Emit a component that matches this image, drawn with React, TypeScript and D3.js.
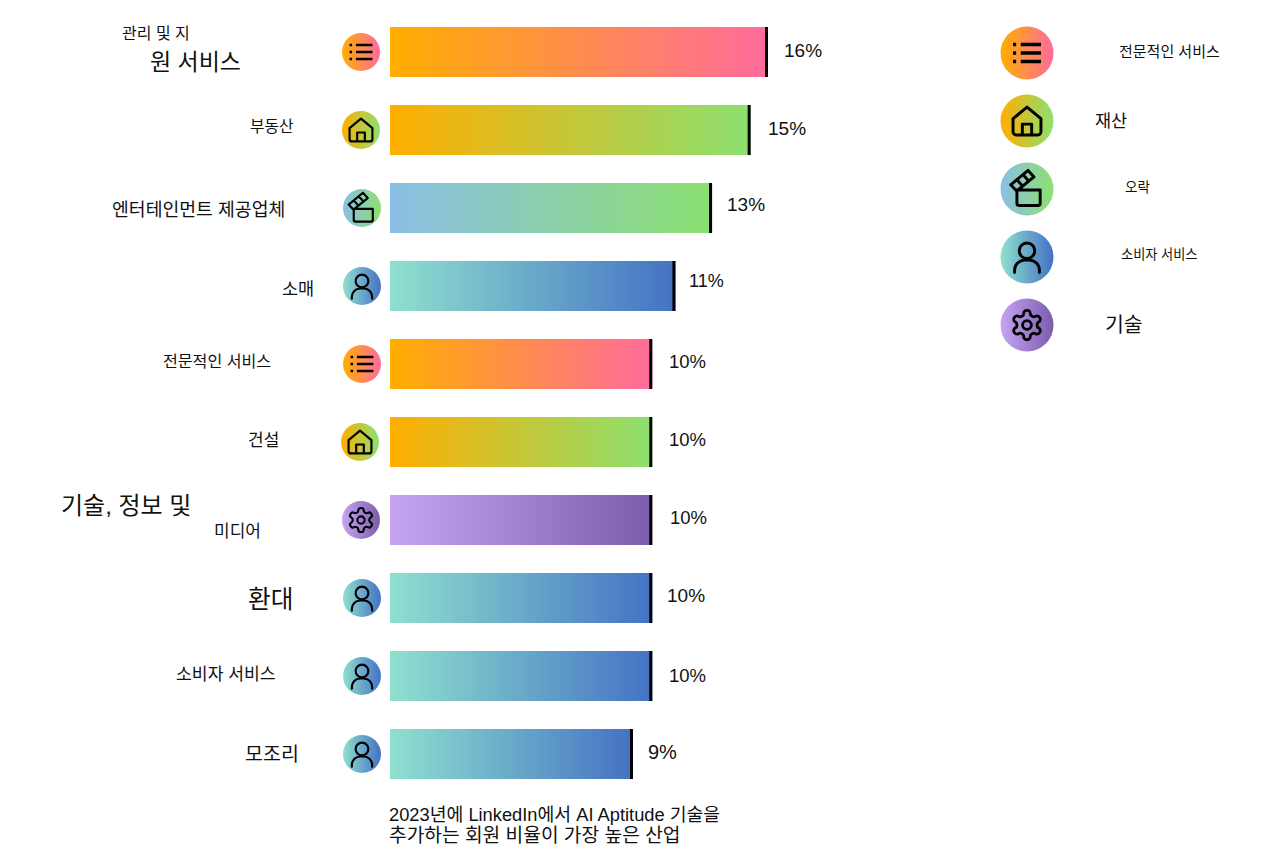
import React, { useEffect, useRef } from 'react';
import * as d3 from 'd3';

const industries = ['관리 및 지원 서비스', '부동산', '엔터테인먼트 제공업체', '소매', '전문적인 서비스', '건설', '기술, 정보 및 미디어', '환대', '소비자 서비스', '모조리'];
// widths on the picture don't quite follow the rounded labels, so values are read off the bars
const barValues = [16, 15.1, 13.1, 11.2, 10, 10, 10, 10, 10, 9];
const valueLabels = ['16%', '15%', '13%', '11%', '10%', '10%', '10%', '10%', '10%', '9%'];
const groups = ['pro', 'prop', 'ent', 'cons', 'pro', 'prop', 'tech', 'cons', 'cons', 'cons'];

const legendGroups = ['pro', 'prop', 'ent', 'cons', 'tech'];
const legendLabels = ['전문적인 서비스', '재산', '오락', '소비자 서비스', '기술'];

const footerLines = ['2023년에 LinkedIn에서 AI Aptitude 기술을', '추가하는 회원 비율이 가장 높은 산업'];

const gradientStops: Record<string, [string, string]> = {
  pro: ['#ffae00', '#ff6b9d'],
  prop: ['#ffae00', '#8ce070'],
  ent: ['#8abfe6', '#8ce070'],
  cons: ['#8fe0cf', '#4472c4'],
  tech: ['#c6a4f4', '#7b5cab'],
};

// icon outlines on a 24 unit box
const iconPaths: Record<string, string> = {
  pro: 'M8 6.5h13M8 12h13M8 17.5h13M3 6.5h2M3 12h2M3 17.5h2',
  prop: 'M3 10.5 12 3l9 7.5V19a2 2 0 0 1-2 2H5a2 2 0 0 1-2-2zM9 21v-7h6v7',
  ent: 'M5.5 12.7h15v8.5a1.5 1.5 0 0 1-1.5 1.5H7a1.5 1.5 0 0 1-1.5-1.5zM1.5 9.3 12.7 0l3.8 4.2L5.3 13.3zM5.5 6l3.8 4.3M9.5 2.8l3.8 4.3',
  cons: 'M12 3a5 5 0 1 0 0 10 5 5 0 0 0 0-10zM4 22v-1.5a6.5 6.5 0 0 1 6.5-6.5h3a6.5 6.5 0 0 1 6.5 6.5V22',
  tech: 'M12.22 2h-.44a2 2 0 0 0-2 2v.18a2 2 0 0 1-1 1.73l-.43.25a2 2 0 0 1-2 0l-.15-.08a2 2 0 0 0-2.73.73l-.22.38a2 2 0 0 0 .73 2.73l.15.1a2 2 0 0 1 1 1.72v.51a2 2 0 0 1-1 1.74l-.15.09a2 2 0 0 0-.73 2.73l.22.38a2 2 0 0 0 2.73.73l.15-.08a2 2 0 0 1 2 0l.43.25a2 2 0 0 1 1 1.73V20a2 2 0 0 0 2 2h.44a2 2 0 0 0 2-2v-.18a2 2 0 0 1 1-1.73l.43-.25a2 2 0 0 1 2 0l.15.08a2 2 0 0 0 2.73-.73l.22-.39a2 2 0 0 0-.73-2.73l-.15-.08a2 2 0 0 1-1-1.74v-.5a2 2 0 0 1 1-1.74l.15-.09a2 2 0 0 0 .73-2.73l-.22-.38a2 2 0 0 0-2.73-.73l-.15.08a2 2 0 0 1-2 0l-.43-.25a2 2 0 0 1-1-1.73V4a2 2 0 0 0-2-2zM12 9a3 3 0 1 0 0 6 3 3 0 0 0 0-6z',
};

// the source labels were pasted in by hand at uneven sizes: [text, left x, centre y, font size]
const labelLayout: [string, number, number, number][] = [
  ['관리 및 지', 122, 33, 16],
  ['원 서비스', 150, 62, 23],
  ['부동산', 250, 126, 15.8],
  ['엔터테인먼트 제공업체', 112, 209, 18.3],
  ['소매', 282, 289, 17.5],
  ['전문적인 서비스', 163, 361, 16.1],
  ['건설', 248, 440, 17],
  ['기술, 정보 및', 61, 505, 24],
  ['미디어', 214, 531, 17],
  ['환대', 248, 599, 24.7],
  ['소비자 서비스', 176, 674, 17.2],
  ['모조리', 245, 754, 19.5],
];
const valueLayout: [number, number, number][] = [
  [784, 50, 19], [768, 128, 19], [727, 204, 19], [689, 281, 18], [669, 361, 18.5],
  [669, 439, 18.5], [670, 517, 18.5], [667, 595, 19], [669, 675, 18.5], [648, 752, 20],
];
const iconCentres = [361, 361, 362, 362, 362, 360, 361, 362, 362, 362];
const legendLayout: [number, number, number][] = [
  [1119, 51, 15], [1095, 121, 17.5], [1125, 187, 13.5], [1121, 254, 13.2], [1105, 324, 20.5],
];
const footerSizes = [18.3, 19.2];

const font = "'Liberation Sans', 'Noto Sans CJK KR', sans-serif";

const App = () => {
  const ref = useRef<SVGSVGElement>(null);

  useEffect(() => {
    const svg = d3.select(ref.current);
    svg.selectAll('*').remove();

    const defs = svg.append('defs');
    Object.keys(gradientStops).forEach(k => {
      const g = defs.append('linearGradient').attr('id', `grad-${k}`);
      g.append('stop').attr('offset', '0%').attr('stop-color', gradientStops[k][0]);
      g.append('stop').attr('offset', '100%').attr('stop-color', gradientStops[k][1]);
    });

    const xScale = d3.scaleLinear().domain([9, 16]).range([633, 768]);
    const yScale = d3
      .scaleBand()
      .domain(industries)
      .range([27, 779])
      .paddingInner(28 / 78)
      .paddingOuter(0);
    const x0 = 390;

    const rows = svg
      .append('g')
      .selectAll('g')
      .data(industries)
      .join('g');

    rows
      .append('rect')
      .attr('x', x0)
      .attr('y', d => yScale(d))
      .attr('width', (d, i) => xScale(barValues[i]) - x0)
      .attr('height', yScale.bandwidth())
      .attr('fill', (d, i) => `url(#grad-${groups[i]})`);

    rows
      .append('rect')
      .attr('x', (d, i) => xScale(barValues[i]) - 3)
      .attr('y', d => yScale(d))
      .attr('width', 3)
      .attr('height', yScale.bandwidth())
      .attr('fill', '#000');

    const drawIcon = (group: string, cx: number, cy: number, r: number, k: number, sw: number) => {
      const g = svg.append('g').attr('transform', `translate(${cx},${cy})`);
      g.append('circle').attr('r', r).attr('fill', `url(#grad-${group})`);
      // gear outline is wider than the others on the same box
      const s = group === 'tech' ? k * 0.95 : k;
      g.append('path')
        .attr('transform', `scale(${s}) translate(-12,-12)`)
        .attr('d', iconPaths[group])
        .attr('fill', 'none')
        .attr('stroke', '#000')
        .attr('stroke-width', group === 'pro' ? sw * 1.2 : sw)
        .attr('stroke-linecap', group === 'cons' ? 'round' : 'butt')
        .attr('stroke-linejoin', 'round');
    };

    industries.forEach((d, i) => {
      drawIcon(groups[i], iconCentres[i], yScale(d) + yScale.bandwidth() / 2, 19, 1.27, 1.7);
    });

    const addText = (t: string, x: number, y: number, size: number) =>
      svg
        .append('text')
        .attr('x', x)
        .attr('y', y)
        .attr('dominant-baseline', 'central')
        .attr('font-family', font)
        .attr('font-size', size)
        .attr('fill', '#111')
        .text(t);

    labelLayout.forEach(([t, x, y, s]) => addText(t, x, y, s));
    valueLabels.forEach((t, i) => addText(t, valueLayout[i][0], valueLayout[i][1], valueLayout[i][2]));

    const legendScale = d3
      .scalePoint()
      .domain(legendGroups)
      .range([53, 325]);
    legendGroups.forEach(k => drawIcon(k, 1027, legendScale(k), 26.5, 1.55, 1.9));
    legendLabels.forEach((t, i) => addText(t, legendLayout[i][0], legendLayout[i][1], legendLayout[i][2]));

    footerLines.forEach((t, i) => addText(t, 389, 814 + i * 21, footerSizes[i]));
  }, []);

  return (
    <svg
      ref={ref}
      width={1280}
      height={855}
      viewBox='0 0 1280 855'
      style={{ position: 'absolute', left: 0, top: 0, background: '#fff' }}
    />
  );
};
export default App;
